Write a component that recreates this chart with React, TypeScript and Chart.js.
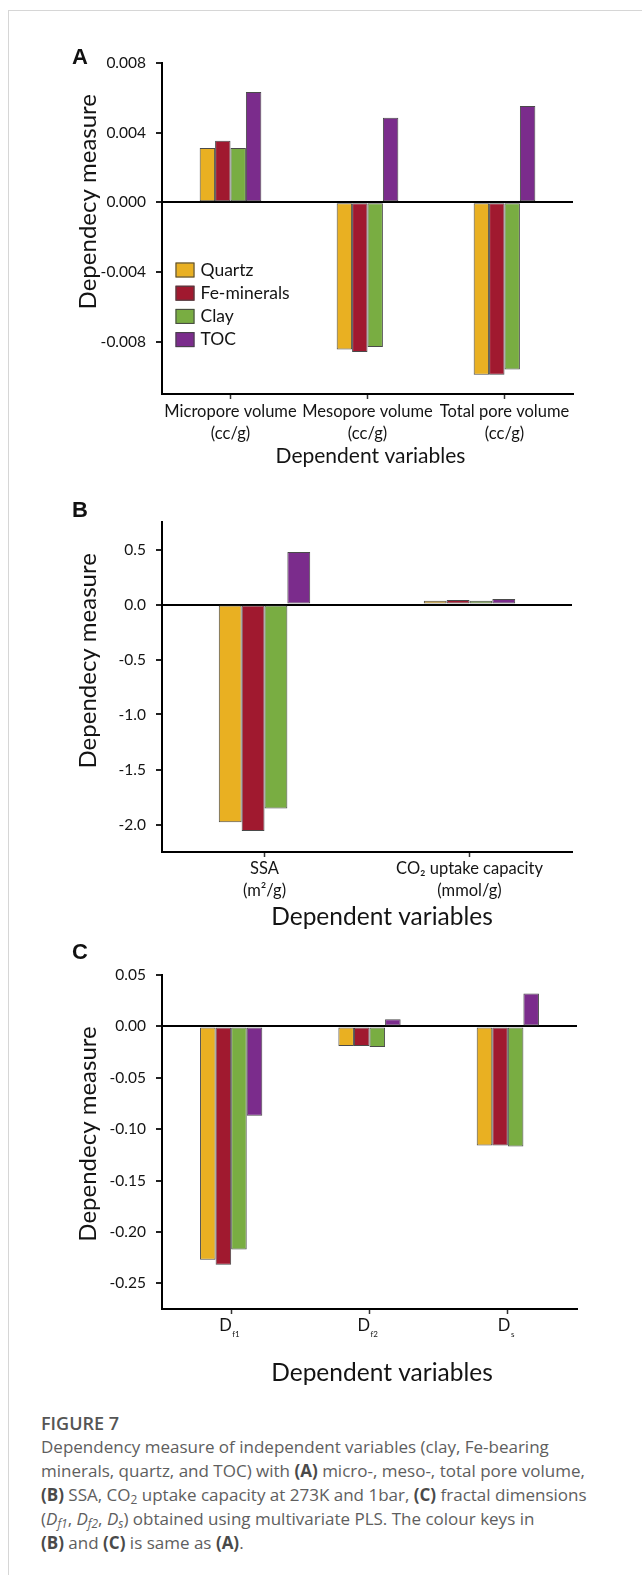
import React, { useEffect, useRef } from 'react';
import { Chart, registerables } from 'chart.js';

Chart.register(...registerables);

const FONT = 'Lato, "Open Sans", sans-serif';

// ---- shared series ----
const seriesNames = ['Quartz', 'Fe-minerals', 'Clay', 'TOC'];
const seriesColors = ['#E9B022', '#A0192F', '#79AD42', '#7B2C8C'];

// ---- panel A ----
const categoriesA = [
  ['Micropore volume', '(cc/g)'],
  ['Mesopore volume', '(cc/g)'],
  ['Total pore volume', '(cc/g)'],
];
const quartzA = [0.00312, -0.00845, -0.00989];
const feA = [0.00354, -0.00859, -0.00989];
const clayA = [0.00312, -0.0083, -0.0096];
const tocA = [0.00634, 0.00486, 0.00553];
const ticksA = [0.008, 0.004, 0, -0.004, -0.008];

// ---- panel B ----
const categoriesB = [
  ['SSA', '(m²/g)'],
  ['CO₂ uptake capacity', '(mmol/g)'],
];
const quartzB = [-1.98, 0.033];
const feB = [-2.06, 0.042];
const clayB = [-1.855, 0.033];
const tocB = [0.478, 0.051];
const ticksB = [0.5, 0, -0.5, -1.0, -1.5, -2.0];

// ---- panel C ----
const categoriesC = ['D_f1', 'D_f2', 'D_s'];
const quartzC = [-0.227, -0.019, -0.116];
const feC = [-0.232, -0.019, -0.116];
const clayC = [-0.217, -0.02, -0.117];
const tocC = [-0.087, 0.007, 0.032];
const ticksC = [0.05, 0, -0.05, -0.1, -0.15, -0.2, -0.25];

const yTitle = 'Dependecy measure';
const xTitle = 'Dependent variables';

// ---- plugins ----
const panelTexts = {
  id: 'panelTexts',
  afterDraw(chart: any, _a: any, opts: any) {
    const items = opts.items || [];
    const ctx = chart.ctx;
    for (let i = 0; i < items.length; i++) {
      const it = items[i];
      ctx.save();
      ctx.font = `400 ${it.size}px ${FONT}`;
      ctx.fillStyle = '#141414';
      ctx.textAlign = 'center';
      ctx.textBaseline = 'middle';
      ctx.translate(it.x, it.y);
      if (it.rotate) ctx.rotate(-Math.PI / 2);
      ctx.fillText(it.text, 0, 0);
      ctx.restore();
    }
  },
};

const boxLegend = {
  id: 'boxLegend',
  afterDraw(chart: any, _a: any, opts: any) {
    if (!opts.show) return;
    const ctx = chart.ctx;
    chart.data.datasets.forEach((ds: any, i: number) => {
      const cy = opts.y + i * opts.step;
      ctx.save();
      ctx.fillStyle = ds.backgroundColor;
      ctx.fillRect(opts.x, cy - opts.h / 2, opts.w, opts.h);
      ctx.strokeStyle = '#444';
      ctx.lineWidth = 1;
      ctx.strokeRect(opts.x + 0.5, cy - opts.h / 2 + 0.5, opts.w - 1, opts.h - 1);
      ctx.fillStyle = '#141414';
      ctx.font = `400 ${opts.size}px ${FONT}`;
      ctx.textAlign = 'left';
      ctx.textBaseline = 'middle';
      ctx.fillText(ds.label, opts.x + opts.w + opts.gap, cy);
      ctx.restore();
    });
  },
};

const subLabels = {
  id: 'subLabels',
  afterDraw(chart: any, _a: any, opts: any) {
    if (!opts.show) return;
    const xs = chart.scales.x;
    const ctx = chart.ctx;
    chart.data.labels.forEach((lab: any, i: number) => {
      const [main, sub] = String(lab).split('_');
      const px = xs.getPixelForTick(i);
      ctx.save();
      const mainFont = `400 ${opts.mainSize}px ${FONT}`;
      const subFont = `400 ${opts.subSize}px ${FONT}`;
      ctx.font = mainFont;
      const w1 = ctx.measureText(main).width;
      ctx.font = subFont;
      const w2 = ctx.measureText(sub).width;
      const x0 = px - (w1 + w2) / 2 + opts.dx;
      ctx.fillStyle = '#141414';
      ctx.textBaseline = 'middle';
      ctx.textAlign = 'left';
      ctx.font = mainFont;
      ctx.fillText(main, x0, xs.top + opts.mainDy);
      ctx.font = subFont;
      ctx.fillText(sub, x0 + w1 + 0.5, xs.top + opts.subDy);
      ctx.restore();
    });
  },
};

function buildConfig(p: any) {
  return {
    type: 'bar',
    data: {
      labels: p.labels,
      datasets: seriesNames.map((n, i) => ({
        label: n,
        data: p.series[i],
        backgroundColor: seriesColors[i],
        borderColor: '#4a4a4a',
        borderWidth: 1,
        borderSkipped: false,
        categoryPercentage: p.catPct,
        barPercentage: 1,
      })),
    },
    options: {
      responsive: false,
      maintainAspectRatio: false,
      animation: false,
      events: [],
      layout: { padding: p.padding },
      plugins: {
        legend: { display: false },
        tooltip: { enabled: false },
        panelTexts: { items: p.texts },
        boxLegend: p.legend || { show: false },
        subLabels: p.sub || { show: false },
      },
      scales: {
        x: {
          type: 'category',
          offset: true,
          z: 1,
          grid: {
            offset: false,
            drawOnChartArea: false,
            drawTicks: true,
            tickLength: 5,
            tickColor: '#333',
            tickWidth: 1.5,
          },
          border: { display: true, color: '#000', width: 2 },
          ticks: {
            display: !p.sub,
            autoSkip: false,
            maxRotation: 0,
            minRotation: 0,
            padding: p.xTickPad,
            color: '#141414',
            font: { family: FONT, size: 16.5, lineHeight: 1.32 },
          },
          afterFit: (s: any) => {
            s.height = p.xHeight;
          },
        },
        y: {
          min: p.min,
          max: p.max,
          z: 1,
          afterBuildTicks: (s: any) => {
            s.ticks = p.ticks.map((v: number) => ({ value: v }));
          },
          grid: {
            color: (c: any) => (c.tick && c.tick.value === 0 ? '#000' : 'rgba(0,0,0,0)'),
            lineWidth: (c: any) => (c.tick && c.tick.value === 0 ? 2 : 0),
            drawTicks: true,
            tickLength: 6,
            tickColor: '#222',
            tickWidth: 2,
          },
          border: { display: true, color: '#000', width: 2 },
          ticks: {
            padding: 10,
            color: '#141414',
            font: { family: FONT, size: 15.5 },
            callback: (v: any) => Number(v).toFixed(p.decimals),
          },
          afterFit: (s: any) => {
            s.width = 162;
          },
        },
      },
    },
    plugins: [panelTexts, boxLegend, subLabels],
  };
}

const panelA = {
  labels: categoriesA,
  series: [quartzA, feA, clayA, tocA],
  ticks: ticksA,
  min: -0.011,
  max: 0.008,
  decimals: 3,
  catPct: 0.45,
  padding: { top: 63, right: 69, bottom: 6, left: 0 },
  xHeight: 80,
  xTickPad: 2,
  texts: [
    { text: yTitle, x: 88, y: 201.7, rotate: true, size: 24 },
    { text: xTitle, x: 370.5, y: 456, size: 21 },
  ],
  legend: { show: true, x: 175.5, y: 270, step: 23.2, w: 19, h: 15, gap: 6, size: 17.5 },
};

const panelB = {
  labels: categoriesB,
  series: [quartzB, feB, clayB, tocB],
  ticks: ticksB,
  min: -2.25,
  max: 0.75,
  decimals: 1,
  catPct: 0.446,
  padding: { top: 42, right: 70, bottom: 8, left: 0 },
  xHeight: 80,
  xTickPad: 1,
  texts: [
    { text: yTitle, x: 88, y: 180.8, rotate: true, size: 24 },
    { text: xTitle, x: 382, y: 437, size: 24.5 },
  ],
};

const panelC = {
  labels: categoriesC,
  series: [quartzC, feC, clayC, tocC],
  ticks: ticksC,
  min: -0.275,
  max: 0.05,
  decimals: 2,
  catPct: 0.45,
  padding: { top: 35, right: 65, bottom: 11, left: 0 },
  xHeight: 80,
  xTickPad: 2,
  texts: [
    { text: yTitle, x: 88, y: 194, rotate: true, size: 24 },
    { text: xTitle, x: 382, y: 433, size: 24.5 },
  ],
  sub: { show: true, mainSize: 16.5, subSize: 8, mainDy: 17, subDy: 25.5, dx: -2 },
};

function BarPanel({ cfg, top, height }: { cfg: any; top: number; height: number }) {
  const ref = useRef<HTMLCanvasElement | null>(null);
  useEffect(() => {
    const chart = new Chart(ref.current as HTMLCanvasElement, buildConfig(cfg) as any);
    return () => chart.destroy();
  }, [cfg]);
  return (
    <canvas
      ref={ref}
      width={642}
      height={height}
      style={{ position: 'absolute', left: 0, top, width: 642, height }}
    />
  );
}

const letterStyle: React.CSSProperties = {
  position: 'absolute',
  left: 72,
  fontFamily: '"Liberation Sans", Arial, sans-serif',
  fontWeight: 700,
  fontSize: 22,
  lineHeight: '22px',
  color: '#111',
};

const boldKey: React.CSSProperties = { fontWeight: 700, color: '#4a4a4a' };
const subStyle: React.CSSProperties = { fontSize: '0.7em', lineHeight: 0, verticalAlign: '-0.25em' };

export default function App() {
  return (
    <div
      style={{
        position: 'absolute',
        left: 0,
        top: 0,
        width: 642,
        height: 1575,
        background: '#fff',
        overflow: 'hidden',
      }}
    >
      <div
        style={{
          position: 'absolute',
          left: 8,
          top: 10,
          width: 700,
          height: 1600,
          borderTop: '1px solid #d6d6d6',
          borderLeft: '1px solid #d6d6d6',
        }}
      />
      <BarPanel cfg={panelA} top={0} height={480} />
      <BarPanel cfg={panelB} top={480} height={460} />
      <BarPanel cfg={panelC} top={940} height={460} />
      <div style={{ ...letterStyle, top: 45.5 }}>A</div>
      <div style={{ ...letterStyle, top: 499 }}>B</div>
      <div style={{ ...letterStyle, top: 940.5 }}>C</div>
      <div
        style={{
          position: 'absolute',
          left: 41,
          top: 1411,
          fontFamily: '"Open Sans", sans-serif',
          fontSize: 17,
          lineHeight: '24px',
          color: '#5e5e5e',
          whiteSpace: 'nowrap',
        }}
      >
        <div style={{ fontWeight: 600, fontSize: 18, color: '#555' }}>FIGURE 7</div>
        <div>
          Dependency measure of independent variables (clay, Fe-bearing
          <br />
          minerals, quartz, and TOC) with <span style={boldKey}>(A)</span> micro-, meso-, total pore volume,
          <br />
          <span style={boldKey}>(B)</span> SSA, CO<sub style={subStyle}>2</sub> uptake capacity at 273K and 1bar,{' '}
          <span style={boldKey}>(C)</span> fractal dimensions
          <br />
          (<i>D<sub style={subStyle}>f1</sub></i>, <i>D<sub style={subStyle}>f2</sub></i>,{' '}
          <i>D<sub style={subStyle}>s</sub></i>) obtained using multivariate PLS. The colour keys in
          <br />
          <span style={boldKey}>(B)</span> and <span style={boldKey}>(C)</span> is same as{' '}
          <span style={boldKey}>(A)</span>.
        </div>
      </div>
    </div>
  );
}
